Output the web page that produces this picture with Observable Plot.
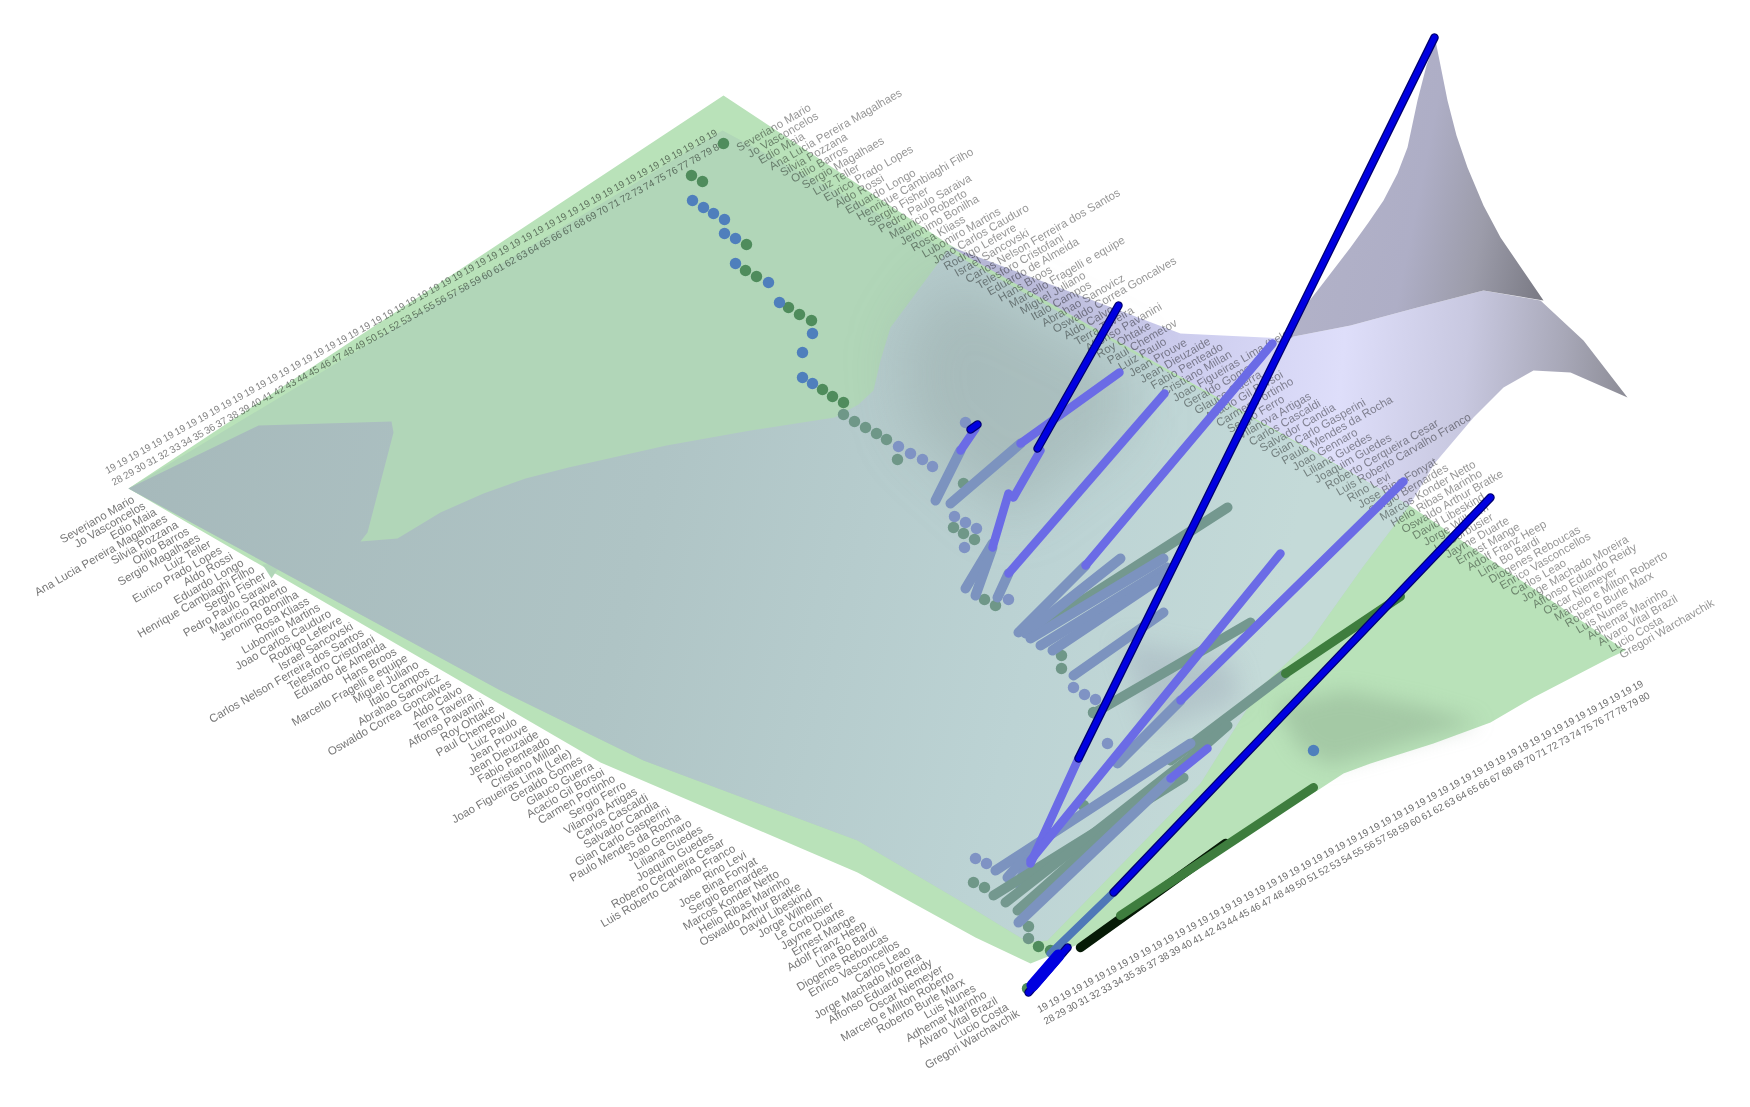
<!DOCTYPE html>
<html><head><meta charset="utf-8">
<style>html,body{margin:0;padding:0;background:#fff}svg{display:block;filter:blur(.7px)}</style>
<script src="https://cdn.jsdelivr.net/npm/d3@7"></script>
<script src="https://cdn.jsdelivr.net/npm/@observablehq/plot@0.6"></script>
</head><body><div id="chart"></div>
<script>
const names=["Severiano Mario","Jo Vasconcelos","Edio Maia","Ana Lucia Pereira Magalhaes","Silvia Pozzana","Otilio Barros","Sergio Magalhaes","Luiz Teller","Eurico Prado Lopes","Aldo Rossi","Eduardo Longo","Henrique Cambiaghi Filho","Sergio Fisher","Pedro Paulo Saraiva","Mauricio Roberto","Jeronimo Bonilha","Rosa Kliass","Lubomiro Martins","Joao Carlos Cauduro","Rodrigo Lefevre","Israel Sancovski","Carlos Nelson Ferreira dos Santos","Telesforo Cristofani","Eduardo de Almeida","Hans Broos","Marcello Fragelli e equipe","Miguel Juliano","Italo Campos","Abrahao Sanovicz","Oswaldo Correa Goncalves","Aldo Calvo","Terra Taveira","Affonso Pavanini","Roy Ohtake","Paul Chemetov","Luiz Paulo","Jean Prouve","Jean Dieuzaide","Fabio Penteado","Cristiano Millan","Joao Figueiras Lima (Lele)","Geraldo Gomes","Glauco Guerra","Acacio Gil Borsoi","Carmen Portinho","Sergio Ferro","Vilanova Artigas","Carlos Cascaldi","Salvador Candia","Gian Carlo Gasperini","Paulo Mendes da Rocha","Joao Gennaro","Liliana Guedes","Joaquim Guedes","Roberto Cerqueira Cesar","Luis Roberto Carvalho Franco","Rino Levi","Jose Bina Fonyat","Sergio Bernardes","Marcos Konder Netto","Helio Ribas Marinho","Oswaldo Arthur Bratke","David Libeskind","Jorge Wilheim","Le Corbusier","Jayme Duarte","Ernest Mange","Adolf Franz Heep","Lina Bo Bardi","Diogenes Reboucas","Enrico Vasconcellos","Carlos Leao","Jorge Machado Moreira","Affonso Eduardo Reidy","Oscar Niemeyer","Marcelo e Milton Roberto","Roberto Burle Marx","Luis Nunes","Adhemar Marinho","Alvaro Vital Brazil","Lucio Costa","Gregori Warchavchik"];
const years=d3.range(1928,1981).map(String);

// ends of the four label rows
const frontNameEnds=[[133,498],[1018,1012]];
const backNameStarts=[[737,148],[1620,655]];
const topYearBand=[[113,473],[714,139]];
const bottomYearBand=[[1045,1012],[1640,690]];

// surfaces
const greenOutline=[[128,488],[723,95],[947,243],[1409,505],[1625,650],[1610,657],[1533,697],[1490,722],[1433,743],[1370,763],[1343,773],[1317,790],[1200,860],[1075,945],[1030,963],[975,937],[857,872],[600,762]];
const blueBelowGreen=[[128,488],[722,130],[947,250],[1409,505],[1362,567],[1310,640],[1260,687],[1200,783],[1047,940],[1028,942],[964,903],[857,840],[643,760],[500,690]];
const blueAboveGreen=[[128,488],[258,425],[391,421],[393,432],[367,532],[360,541],[397,538],[440,512],[483,493],[525,478],[568,467],[666,445],[750,430],[834,417],[858,404],[873,390],[880,360],[890,327],[947,250],[1409,505],[1362,567],[1310,640],[1260,687],[1200,783],[1047,940],[1028,942],[964,903],[857,840],[643,760],[500,690]];
const greenNotch=[[262,564],[281,563],[271,578]];
const lavenderSheet=[[947,245],[1180,333],[1283,338],[1350,325],[1417,307],[1483,290],[1540,300],[1583,340],[1627,397],[1570,372],[1533,370],[1503,387],[1473,417],[1434,463],[1409,505]];
const peakSheet=[[1283,338],[1293,320],[1317,290],[1350,247],[1368,222],[1383,200],[1397,173],[1407,147],[1417,100],[1426,65],[1435,40],[1441,70],[1447,100],[1456,135],[1467,167],[1483,205],[1500,237],[1543,300],[1483,290],[1417,307],[1350,325]];
const plateShade=[[900,345],[950,275],[1130,365],[1130,430],[1010,520],[910,430]];
const foldShade=[[1120,640],[1230,660],[1240,700],[1150,730]];
const greenShade=[[1275,705],[1345,690],[1420,705],[1480,722],[1425,737],[1365,755],[1330,765],[1300,750]];

// rods
const rodsGreenGrey=[[1040,627,1227,507],[1093,713,1250,622],[1170,760,1285,673]];
const rodsGreenGreyFan=[[993,895,1183,777],[1005,902,1203,747],[1017,910,1227,725]];
const rodsGreyBlue=[[935,500,960,450],[950,503,1020,443],[965,588,992,543],[975,595,992,547],[997,597,1008,573],[1018,632,1085,565],[1025,633,1120,558],[1030,638,1163,558],[1040,645,1167,567],[1052,650,1167,573],[1073,675,1163,612],[1117,763,1180,700],[995,870,1190,743],[1007,877,1030,850],[1018,883,1030,857]];
const rodsGreyBlueFront=[[1018,922,1170,778]];
const rodsViolet=[[960,450,975,428],[1020,443,1119,372],[1013,497,1040,450],[992,547,1008,493],[1008,573,1164,393],[1085,565,1272,343],[1078,758,1030,863],[1030,860,1280,553],[1180,700,1403,481],[1170,778,1207,748]];
const rodsGreenTop=[[1285,673,1400,596],[1120,915,1313,787]];
const rodsBlack=[[1080,947,1225,843]];
const rodsMutedBlue=[[1050,953,1113,892]];
const rodsDeep=[[1037,448,1118,305],[1078,758,1434,37],[1113,892,1490,497],[1028,992,1067,947],[970,429,977,424]];
const rodsDeepThick=[[1032,985,1058,955]];

// points: x, y pairs
const dotsBlueTop=[[692,200],[703,207],[713,213],[724,219],[724,233],[735,238],[735,263],[768,282],[779,302],[812,333],[802,352],[802,377],[812,383],[1313,750]];
const dotsGreenTop=[[723,143],[691,175],[702,181],[746,244],[745,270],[756,276],[788,307],[799,314],[811,320],[822,389],[832,396],[843,402],[1038,946],[1050,950],[1027,988]];
const dotsBlueUnder=[[898,446],[910,453],[922,459],[932,466],[965,422],[954,516],[965,522],[976,528],[964,547],[1008,599],[1073,687],[1084,694],[1095,699],[1107,743],[975,858],[986,863]];
const dotsGreenUnder=[[843,414],[854,421],[865,427],[876,433],[886,439],[897,459],[963,483],[953,527],[963,533],[974,539],[984,599],[995,605],[1061,655],[1061,668],[1093,712],[1083,805],[973,882],[984,887],[1028,926],[1028,938]];

const along=(e,t)=>[e[0][0]+(e[1][0]-e[0][0])*t,e[0][1]+(e[1][1]-e[0][1])*t];
const nameRow=e=>names.map((n,i)=>{const p=along(e,i/(names.length-1));return {n,x:p[0],y:p[1]};});
const yearRow=e=>years.map((n,i)=>{const p=along(e,i/(years.length-1));return {n:n.slice(0,2)+"\n"+n.slice(2),x:p[0],y:p[1]};});
const X=d=>d[0],Y=d=>d[1];
const poly=(pts,fill,o={})=>Plot.line([...pts,pts[0]],{x:X,y:Y,fill,stroke:"none",...o});
const rods=(list,stroke,w,o={})=>Plot.link(list,{x1:d=>d[0],y1:d=>d[1],x2:d=>d[2],y2:d=>d[3],stroke,strokeWidth:w,strokeLinecap:"round",...o});
const dots=(list,fill,r=5.7)=>Plot.dot(list,{x:X,y:Y,r,fill,stroke:"none"});
const svgNS="http://www.w3.org/2000/svg";
const defs=()=>{const g=document.createElementNS(svgNS,"g");
 g.innerHTML=`<defs>
 <linearGradient id="plate" gradientUnits="userSpaceOnUse" x1="128" y1="450" x2="1250" y2="720">
  <stop offset="0" stop-color="#a6b9bb"/><stop offset=".45" stop-color="#afc4c5"/><stop offset=".8" stop-color="#bcd3d4"/><stop offset="1" stop-color="#c4dad8"/></linearGradient>
 <linearGradient id="lav" gradientUnits="userSpaceOnUse" x1="950" y1="300" x2="1630" y2="360">
  <stop offset="0" stop-color="#b6b6d6"/><stop offset=".38" stop-color="#cfcff0"/><stop offset=".58" stop-color="#dedefa"/><stop offset=".76" stop-color="#c8c8e0"/><stop offset=".9" stop-color="#a8a8b8"/><stop offset="1" stop-color="#8c8c96"/></linearGradient>
 <linearGradient id="peak" gradientUnits="userSpaceOnUse" x1="1300" y1="200" x2="1550" y2="250">
  <stop offset="0" stop-color="#b2b2c8"/><stop offset=".45" stop-color="#aeaec6"/><stop offset=".72" stop-color="#9c9caa"/><stop offset="1" stop-color="#7a7a84"/></linearGradient>
 </defs>`;return g;};

const marks=[
 defs,
 poly(greenOutline,"#b9e2b9"),
 poly(blueBelowGreen,"#b1d6b8"),
 poly(greenShade,"#7f9a80",{fillOpacity:.35,imageFilter:"blur(10px)"}),
 poly(greenNotch,"#b1d6b8"),
 poly(lavenderSheet,"url(#lav)"),
 poly(peakSheet,"url(#peak)"),
 poly(blueAboveGreen,"url(#plate)"),
 poly(plateShade,"#7c8c88",{fillOpacity:.28,imageFilter:"blur(28px)"}),
 poly(foldShade,"#8d95a8",{fillOpacity:.28,imageFilter:"blur(12px)"}),
 Plot.text(nameRow(frontNameEnds),{x:"x",y:"y",text:"n",rotate:-30,textAnchor:"end",fontSize:11.5,fontFamily:"Liberation Sans",fill:"#777"}),
 Plot.text(nameRow(backNameStarts),{x:"x",y:"y",text:"n",rotate:-30,textAnchor:"start",fontSize:11.5,fontFamily:"Liberation Sans",fill:"#6e6e6e",fillOpacity:.72,mixBlendMode:"multiply"}),
 Plot.text(yearRow(topYearBand),{x:"x",y:"y",text:"n",rotate:-29,textAnchor:"middle",lineHeight:1.35,fontSize:10,fontFamily:"Liberation Sans",fill:"#6e6e6e",fillOpacity:.85,mixBlendMode:"multiply"}),
 Plot.text(yearRow(bottomYearBand),{x:"x",y:"y",text:"n",rotate:-29,textAnchor:"middle",lineHeight:1.35,fontSize:10,fontFamily:"Liberation Sans",fill:"#6e6e6e"}),
 dots(dotsGreenUnder,"#6f9788"),
 dots(dotsBlueUnder,"#7f93c4"),
 dots(dotsGreenTop,"#4f8c5c"),
 dots(dotsBlueTop,"#4f7fbc"),
 rods(rodsGreenGrey,"#74988f",10),
 rods(rodsGreyBlue,"#7c93bf",10),
 rods(rodsGreenGreyFan,"#74988f",10),
 rods(rodsGreyBlueFront,"#7c93bf",10),
 rods(rodsMutedBlue,"#4f78b8",8),
 rods(rodsViolet,"#6b6be6",8.5),
 rods(rodsBlack,"#061a06",9.5),
 rods(rodsGreenTop,"#3e7d3e",9),
 rods(rodsDeep,"#000070",8.5),
 rods(rodsDeep,"#0000e0",6),
 rods(rodsDeepThick,"#0000e0",12)
];
const chart=Plot.plot({width:1750,height:1107,margin:0,
 x:{domain:[0,1750],range:[0,1750],axis:null},
 y:{domain:[0,1107],range:[0,1107],axis:null},
 marks});
document.getElementById("chart").append(chart);
</script></body></html>
